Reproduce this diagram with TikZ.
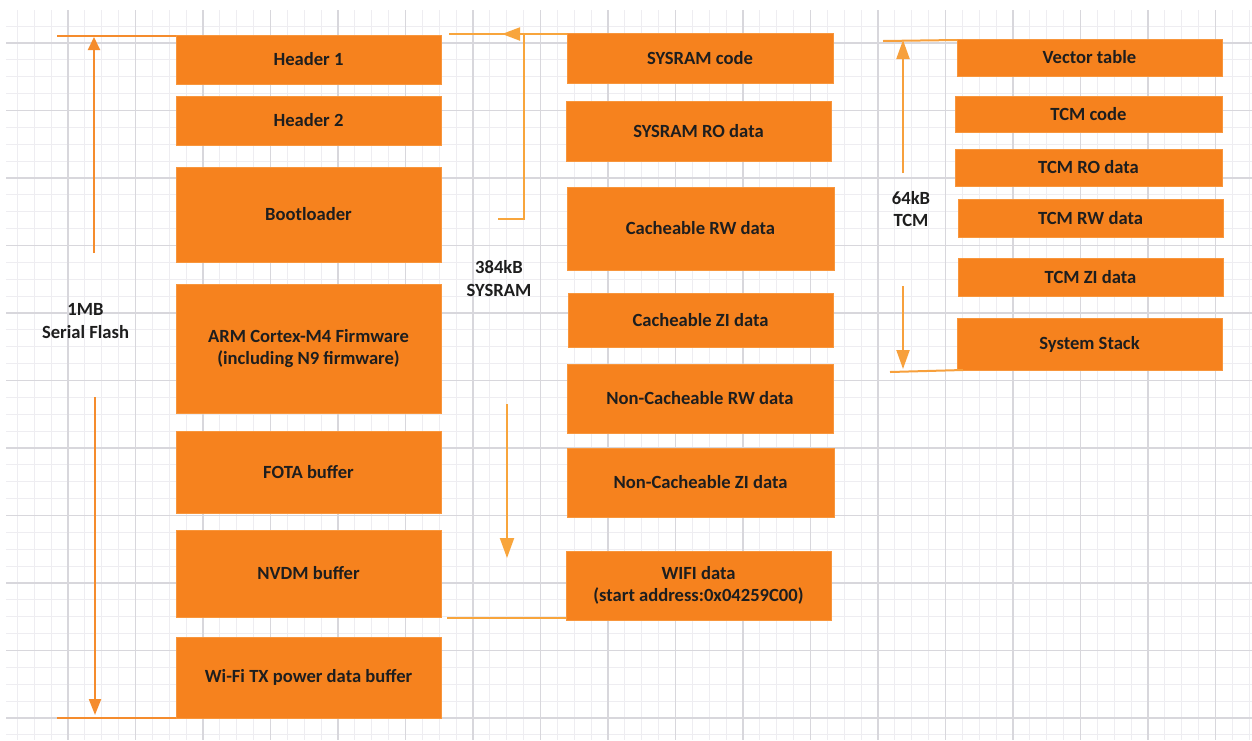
\documentclass[tikz,border=0pt]{standalone}
\usepackage{fontspec}
\setmainfont{Carlito}
\usetikzlibrary{arrows.meta}
\definecolor{boxorange}{RGB}{246,130,30}
\definecolor{boxedge}{RGB}{248,150,60}
\definecolor{txtcol}{RGB}{30,30,30}
\definecolor{minorgrid}{RGB}{238,237,241}
\definecolor{majorgrid}{RGB}{216,215,220}
\definecolor{lineL}{RGB}{245,140,45}
\definecolor{lineM}{RGB}{248,165,60}
\definecolor{lineR}{RGB}{247,160,60}
\begin{document}
\begin{tikzpicture}[x=1pt,y=-1pt,
  memblk/.style={fill=boxorange, draw=boxedge, line width=0.6pt, inner sep=0pt,
    align=center, text=txtcol, font=\bfseries\fontsize{18.6}{22.5}\selectfont},
  sizelbl/.style={inner sep=0pt, align=center, text=txtcol,
    font=\bfseries\fontsize{18.6}{22.5}\selectfont},
  connL/.style={draw=lineL, line width=2pt},
  connM/.style={draw=lineM, line width=2pt},
  connR/.style={draw=lineR, line width=2pt},
  gridminor/.style={draw=minorgrid, line width=1pt},
  gridmajor/.style={draw=majorgrid, line width=1.1pt}
]
\useasboundingbox (0,0) rectangle (1252,740);
\fill[white] (0,0) rectangle (1252,740);
% grid
\foreach \i in {0,...,73} {\draw[gridminor] ({17.375+16.875*\i},10) -- ({17.375+16.875*\i},740);}
\foreach \j in {0,...,42} {\draw[gridminor] (6,{26.125+16.875*\j}) -- (1252,{26.125+16.875*\j});}
\foreach \i in {0,...,17} {\draw[gridmajor] ({68+67.5*\i},10) -- ({68+67.5*\i},740);}
\foreach \j in {0,...,10} {\draw[gridmajor] (6,{43+67.5*\j}) -- (1252,{43+67.5*\j});}

% left column: serial flash
\node[memblk, minimum width=265pt, minimum height=49pt] (hdrA) at (308.5,59.5) {Header 1};
\node[memblk, minimum width=265pt, minimum height=49pt] (hdrB) at (308.5,120.5) {Header 2};
\node[memblk, minimum width=265pt, minimum height=95pt] (boot) at (308.5,214.5) {Bootloader};
\node[memblk, minimum width=265pt, minimum height=129pt] (arm) at (308.5,348.5) {ARM Cortex-M4 Firmware\\(including N9 firmware)};
\node[memblk, minimum width=265pt, minimum height=82pt] (fota) at (308.5,472) {FOTA buffer};
\node[memblk, minimum width=265pt, minimum height=87pt] (nvdm) at (308.5,573.5) {NVDM buffer};
\node[memblk, minimum width=265pt, minimum height=81pt] (wifitx) at (308.5,677.5) {Wi-Fi TX power data buffer};

% middle column: SYSRAM
\node[memblk, minimum width=266pt, minimum height=50pt] (scode) at (700,58) {SYSRAM code};
\node[memblk, minimum width=265pt, minimum height=60pt] (sro) at (698.5,131) {SYSRAM RO data};
\node[memblk, minimum width=267pt, minimum height=83pt] (crw) at (700.5,228.5) {Cacheable RW data};
\node[memblk, minimum width=265pt, minimum height=54pt] (czi) at (700.5,320) {Cacheable ZI data};
\node[memblk, minimum width=266pt, minimum height=69pt] (ncrw) at (700,398.5) {Non-Cacheable RW data};
\node[memblk, minimum width=267pt, minimum height=69pt] (nczi) at (700.5,482.5) {Non-Cacheable ZI data};
\node[memblk, minimum width=265pt, minimum height=69pt] (wifi) at (698.5,585.5) {WIFI data\\(start address:0x04259C00)};

% right column: TCM
\node[memblk, minimum width=265pt, minimum height=37pt] (vec) at (1089.5,57.5) {Vector table};
\node[memblk, minimum width=267pt, minimum height=36pt] (tcode) at (1088.5,114) {TCM code};
\node[memblk, minimum width=267pt, minimum height=37pt] (tro) at (1088.5,167.5) {TCM RO data};
\node[memblk, minimum width=265pt, minimum height=38pt] (trw) at (1090.5,218) {TCM RW data};
\node[memblk, minimum width=265pt, minimum height=38pt] (tzi) at (1090.5,277) {TCM ZI data};
\node[memblk, minimum width=265pt, minimum height=52pt] (stack) at (1089.5,344) {System Stack};

% size labels
\node[sizelbl] (lblflash) at (85.5,321) {1MB\\Serial Flash};
\node[sizelbl] (lblsram) at (499,278.5) {384kB\\SYSRAM};
\node[sizelbl] (lbltcm) at (911,209) {64kB\\TCM};

% coordinates
\coordinate (fTopL) at (57,36);
\coordinate (fTopR) at (176,36);
\coordinate (fBotL) at (57,718);
\coordinate (fBotR) at (176,718);
\coordinate (fUpS) at (94,253);
\coordinate (fUpE) at (94,37);
\coordinate (fDnS) at (95,397);
\coordinate (fDnE) at (95,715);
\coordinate (sTopL) at (449,34);
\coordinate (sTopR) at (567,34);
\coordinate (sElA) at (498,219);
\coordinate (sElB) at (524,219);
\coordinate (sElC) at (524,34);
\coordinate (sElD) at (502,34);
\coordinate (sDnS) at (507,404);
\coordinate (sDnE) at (507,558);
\coordinate (sBotL) at (447,618);
\coordinate (sBotR) at (566,618);
\coordinate (tTopL) at (883,41);
\coordinate (tTopR) at (957,40);
\coordinate (tUpS) at (903,173);
\coordinate (tUpE) at (903,40);
\coordinate (tDnS) at (903,286);
\coordinate (tDnE) at (903,369);
\coordinate (tBotL) at (890,372);
\coordinate (tBotR) at (963,370);

% flash connectors
\draw[connL] (fTopL) -- (fTopR);
\draw[connL] (fBotL) -- (fBotR);
\draw[connL, -{Triangle[width=12pt,length=13pt]}] (fUpS) -- (fUpE);
\draw[connL, -{Triangle[width=12pt,length=16pt]}] (fDnS) -- (fDnE);

% sysram connectors
\draw[connM] (sTopL) -- (sTopR);
\draw[connM, -{Triangle[width=13pt,length=18pt]}] (sElA) -- (sElB) -- (sElC) -- (sElD);
\draw[connM, -{Triangle[width=14pt,length=20pt]}] (sDnS) -- (sDnE);
\draw[connM] (sBotL) -- (sBotR);

% tcm connectors
\draw[connR] (tTopL) -- (tTopR);
\draw[connR, -{Triangle[width=13pt,length=19pt]}] (tUpS) -- (tUpE);
\draw[connR, -{Triangle[width=13pt,length=19pt]}] (tDnS) -- (tDnE);
\draw[connR] (tBotL) -- (tBotR);
\end{tikzpicture}
\end{document}
